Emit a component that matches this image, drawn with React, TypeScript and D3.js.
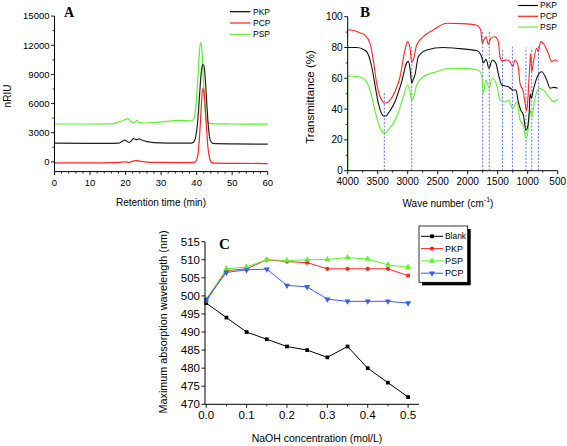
import React from 'react';
import * as d3 from 'd3';

const W = 567, H = 446;
const RED = '#ff2424', GREEN = '#5eef2e', BLUE = '#3b5cf2', DASH = '#5b78ea';
const SANS = '"Liberation Sans", Arial, sans-serif';
const SERIF = '"Liberation Serif", "Times New Roman", serif';

// ---------- Panel A: HPLC ----------
const hplcPSP: [number, number][] = [
  [0, 3900], [10, 3900], [16, 3920], [17, 3960], [18, 4100], [19, 4200], [20, 4380], [20.6, 4450], [21.3, 4250],
  [22, 4020], [22.6, 4100], [23.2, 4250], [23.8, 4050], [25, 4000], [28, 4050], [31, 4150], [34, 4250],
  [36, 4280], [38, 4220], [38.8, 4260], [39.4, 4700], [39.9, 6200], [40.4, 9000], [40.9, 11800], [41.2, 12300],
  [41.6, 10900], [42, 7600], [42.4, 5200], [42.8, 4250], [43.4, 3980], [45, 3920], [50, 3900], [60, 3880],
];
const hplcPKP: [number, number][] = [
  [0, 1920], [15, 1900], [18, 1930], [19, 2100], [19.8, 2230], [20.5, 2100], [21, 2000], [21.6, 2150], [22.2, 2400],
  [22.8, 2300], [23.3, 2280], [23.8, 2380], [24.5, 2250], [26, 2080], [28, 1980], [32, 1930], [38, 1920],
  [39, 1980], [39.6, 2400], [40.2, 3800], [40.7, 6200], [41.2, 8800], [41.6, 9900], [41.9, 10000], [42.3, 9200],
  [42.7, 7000], [43.1, 4600], [43.5, 2900], [44, 2100], [44.6, 1900], [50, 1850], [60, 1820],
];
const hplcPCP: [number, number][] = [
  [0, -100], [10, -110], [17, -80], [19, -20], [20, 0], [21, -50], [22, 80], [23, 120], [24, 80], [26, -20],
  [30, -60], [38, -70], [39.5, -20], [40.3, 600], [40.8, 2500], [41.3, 5600], [41.7, 7550], [42, 7400],
  [42.4, 5800], [42.8, 3400], [43.2, 1400], [43.7, 300], [44.3, -80], [45, -130], [50, -150], [60, -170],
];
const hplcXTicks = [0, 10, 20, 30, 40, 50, 60];
const hplcYTicks = [0, 3000, 6000, 9000, 12000, 15000];

// ---------- Panel B: FT-IR ----------
const irPCP: [number, number][] = [
  [4000, 91.5], [3900, 91], [3800, 89.6], [3712, 88], [3628, 82.7], [3573, 72], [3517, 56.7], [3470, 49],
  [3433, 45.9], [3390, 43.8], [3330, 44.5], [3295, 45.9], [3212, 51.3], [3128, 61], [3045, 78.4], [3000, 83.8],
  [2962, 79.5], [2933, 70.5], [2907, 72], [2850, 81.6], [2740, 87], [2573, 91.4], [2350, 95.7], [2100, 95.5],
  [1850, 94.5], [1783, 91.4], [1757, 82.7], [1740, 84], [1695, 87], [1657, 82], [1617, 86], [1545, 87],
  [1490, 83.8], [1462, 74], [1433, 71.4], [1350, 71.9], [1295, 70.8], [1250, 67.5], [1212, 71.9], [1157, 67.5],
  [1128, 56.7], [1073, 51.3], [1040, 43], [1020, 39], [1000, 44.8], [973, 63.2], [950, 76], [933, 64.3],
  [895, 73], [850, 79.5], [823, 77.3], [783, 83.8], [740, 82.7], [657, 76.2], [600, 70.8], [545, 71.9], [500, 71.4],
];
const irPKP: [number, number][] = [
  [4000, 80], [3850, 80], [3750, 79], [3683, 77.3], [3600, 67.5], [3545, 55.6], [3490, 43.8], [3440, 37.5],
  [3407, 35.5], [3360, 35.5], [3323, 37.3], [3212, 44.8], [3100, 57.8], [3017, 70], [2990, 71], [2960, 66],
  [2933, 57], [2910, 59], [2880, 62], [2823, 74], [2683, 78.4], [2407, 80], [2200, 79.5], [1850, 78],
  [1767, 74], [1740, 70], [1695, 72.3], [1645, 66.5], [1590, 71.9], [1533, 70], [1478, 61], [1433, 55.6],
  [1323, 54.5], [1240, 52.4], [1195, 52.4], [1157, 44.8], [1117, 39.4], [1073, 36.2], [1028, 26.4], [1007, 27.5],
  [973, 39.4], [960, 50], [940, 47], [907, 52.4], [840, 61], [767, 64.3], [683, 58.9], [628, 53.5], [562, 54.1], [500, 53.5],
];
const irPSP: [number, number][] = [
  [4000, 61.5], [3850, 61.2], [3740, 60], [3628, 52.4], [3573, 43.8], [3490, 30.8], [3440, 26], [3407, 24.7],
  [3360, 25], [3323, 26.4], [3183, 35], [3073, 48], [3000, 55.8], [2962, 51.3], [2933, 45.9], [2907, 47],
  [2850, 55.6], [2740, 61], [2517, 64.3], [2295, 66.5], [2000, 66.3], [1823, 65.4], [1767, 62.1], [1740, 50.3],
  [1695, 58.9], [1645, 53.5], [1590, 60], [1517, 55.6], [1462, 45.9], [1378, 44.8], [1323, 45.9], [1250, 40.5],
  [1183, 44.8], [1128, 32.9], [1073, 29.7], [1028, 21], [1000, 24.3], [962, 39.4], [933, 35], [878, 47],
  [807, 53.5], [740, 52.4], [628, 47], [573, 44.8], [500, 46.4],
];
const irBands = [3390, 2933, 1750, 1640, 1420, 1255, 1030, 933, 822];
const irBandTops = [51, 80.5, 91.4, 91.4, 79.5, 80.5, 80, 80, 81.6];
const irXTicks = [4000, 3500, 3000, 2500, 2000, 1500, 1000, 500];
const irYTicks = [0, 20, 40, 60, 80, 100];

// ---------- Panel C ----------
const naoh = [0, 0.05, 0.1, 0.15, 0.2, 0.25, 0.3, 0.35, 0.4, 0.45, 0.5];
const cBlank = [498, 494, 490, 488, 486, 485, 483, 486, 480, 476, 472];
const cPKP = [498.5, 507, 507.5, 510, 509.5, 509.2, 507.5, 507.5, 507.5, 507.5, 505.6];
const cPSP = [499, 507.5, 508, 510, 509.8, 510, 510.1, 510.6, 510.2, 508.6, 507.9];
const cPCP = [499, 506.5, 507.2, 507.4, 502.9, 502.5, 499.1, 498.5, 498.5, 498.5, 498];
const cXTicks = [0, 0.1, 0.2, 0.3, 0.4, 0.5];
const cYTicks = [470, 475, 480, 485, 490, 495, 500, 505, 510, 515];

const xA = d3.scaleLinear([0, 60], [54.5, 267.7]);
const yA = d3.scaleLinear([-1000, 15000], [171.6, 16.1]);
const xB = d3.scaleLinear([4000, 500], [347.7, 557.7]);
const yB = d3.scaleLinear([0, 100], [170.7, 16.7]);
const xC = d3.scaleLinear([-0.003, 0.527], [205, 419]);
const yC = d3.scaleLinear([470, 515], [404.3, 241.7]);

type Sc = d3.ScaleLinear<number, number>;

function AxisLeft({ x, y, ticks, minor, fs, fmt }: { x: Sc; y: Sc; ticks: number[]; minor: number[]; fs: number; fmt?: (v: number) => string }) {
  const x0 = x.range()[0];
  const [b, t] = y.range();
  return (
    <g>
      <line x1={x0} x2={x0} y1={b} y2={t} stroke="#000" strokeWidth={1} />
      {minor.map((v, i) => <line key={'m' + i} x1={x0} x2={x0 - 2} y1={y(v)} y2={y(v)} stroke="#000" strokeWidth={0.8} />)}
      {ticks.map((v, i) => (
        <g key={i}>
          <line x1={x0} x2={x0 - 3.5} y1={y(v)} y2={y(v)} stroke="#000" strokeWidth={0.9} />
          <text x={x0 - 5} y={y(v)} dy="0.35em" textAnchor="end" fontSize={fs} fontFamily={SANS}>{fmt ? fmt(v) : String(v)}</text>
        </g>
      ))}
    </g>
  );
}

function AxisBottom({ x, y, ticks, minor, fs, dy, fmt }: { x: Sc; y: Sc; ticks: number[]; minor: number[]; fs: number; dy: number; fmt?: (v: number) => string }) {
  const y0 = y.range()[0];
  const [l, r] = x.range();
  return (
    <g>
      <line x1={l} x2={r} y1={y0} y2={y0} stroke="#000" strokeWidth={1} />
      {minor.map((v, i) => <line key={'m' + i} x1={x(v)} x2={x(v)} y1={y0} y2={y0 + 2} stroke="#000" strokeWidth={0.8} />)}
      {ticks.map((v, i) => (
        <g key={i}>
          <line x1={x(v)} x2={x(v)} y1={y0} y2={y0 + 3.5} stroke="#000" strokeWidth={0.9} />
          <text x={x(v)} y={y0 + dy} textAnchor="middle" fontSize={fs} fontFamily={SANS}>{fmt ? fmt(v) : String(v)}</text>
        </g>
      ))}
    </g>
  );
}

export default function App() {
  const lineA = d3.line<[number, number]>().x(d => xA(d[0])).y(d => yA(d[1])).curve(d3.curveMonotoneX);
  const lineB = d3.line<[number, number]>().x(d => xB(d[0])).y(d => yB(d[1])).curve(d3.curveMonotoneX);
  const lineC = (vals: number[]) => d3.line<number>().x((_, i) => xC(naoh[i])).y(d => yC(d))(vals) || '';

  const minorA_x = d3.range(0, 61, 2).filter(v => v % 10 !== 0);
  const minorA_y = d3.range(-1500, 15001, 1500).filter(v => v % 3000 !== 0 && v >= -1000);
  const minorB_x = d3.range(500, 4001, 250).filter(v => v % 500 !== 0);
  const minorB_y = d3.range(10, 100, 20);
  const minorC_x = [0.05, 0.15, 0.25, 0.35, 0.45];

  const sym = (type: d3.SymbolType, size: number) => d3.symbol(type, size)() || '';
  const cSeries = [
    { name: 'Blank', vals: cBlank, color: '#000', shape: sym(d3.symbolSquare, 14) },
    { name: 'PKP', vals: cPKP, color: RED, shape: sym(d3.symbolCircle, 14) },
    { name: 'PSP', vals: cPSP, color: GREEN, shape: sym(d3.symbolTriangle, 16) },
    { name: 'PCP', vals: cPCP, color: BLUE, shape: sym(d3.symbolTriangle, 16), flip: true },
  ];
  const legA = [{ n: 'PKP', c: '#000' }, { n: 'PCP', c: RED }, { n: 'PSP', c: GREEN }];

  return (
    <svg width={W} height={H} style={{ position: 'absolute', left: 0, top: 0, background: '#fff' }}>
      <rect width={W} height={H} fill="#fff" />
      {/* ---------- Panel A ---------- */}
      <g>
        <path d={lineA(hplcPSP) || ''} fill="none" stroke={GREEN} strokeWidth={1.2} />
        <path d={lineA(hplcPKP) || ''} fill="none" stroke="#222" strokeWidth={1.2} />
        <path d={lineA(hplcPCP) || ''} fill="none" stroke={RED} strokeWidth={1.2} />
        <AxisLeft x={xA} y={yA} ticks={hplcYTicks} minor={minorA_y} fs={9.5} />
        <AxisBottom x={xA} y={yA} ticks={hplcXTicks} minor={minorA_x} fs={9.5} dy={14.3} />
        <text transform="translate(7.5,96) rotate(-90)" textAnchor="middle" dominantBaseline="central" fontSize={10} fontFamily={SANS}>nRIU</text>
        <text x={161} y={202} textAnchor="middle" dominantBaseline="central" fontSize={10} fontFamily={SANS}>Retention time (min)</text>
        <text x={64} y={17} fontSize={14} fontWeight="bold" fontFamily={SERIF}>A</text>
        {legA.map((d, i) => (
          <g key={d.n}>
            <line x1={230} x2={250.5} y1={11.7 + i * 11.3} y2={11.7 + i * 11.3} stroke={d.c} strokeWidth={1.2} />
            <text x={253} y={11.7 + i * 11.3} dy="0.35em" fontSize={8.5} fontFamily={SANS}>{d.n}</text>
          </g>
        ))}
      </g>

      {/* ---------- Panel B ---------- */}
      <g>
        {irBands.map((w, i) => (
          <line key={w} x1={xB(w)} x2={xB(w)} y1={yB(0)} y2={yB(irBandTops[i])} stroke={DASH} strokeWidth={1} strokeDasharray="2,1.6" />
        ))}
        <line x1={xB(irPSP[0][0])} x2={xB(irPSP[0][0])} y1={yB(0)} y2={yB(irPSP[0][1])} stroke={GREEN} strokeWidth={1.2} />
        <path d={lineB(irPSP) || ''} fill="none" stroke={GREEN} strokeWidth={1.1} />
        <path d={lineB(irPKP) || ''} fill="none" stroke="#111" strokeWidth={1.1} />
        <path d={lineB(irPCP) || ''} fill="none" stroke={RED} strokeWidth={1.1} />
        <AxisLeft x={xB} y={yB} ticks={irYTicks} minor={minorB_y} fs={10} />
        <AxisBottom x={xB} y={yB} ticks={irXTicks} minor={minorB_x} fs={10} dy={14.3} />
        <text transform="translate(310,97) rotate(-90)" textAnchor="middle" dominantBaseline="central" fontSize={11.5} fontFamily={SANS}>Transmittance (%)</text>
        <text x={448} y={203} textAnchor="middle" dominantBaseline="central" fontSize={10} fontFamily={SANS}>
          Wave number (cm<tspan fontSize={7} dy={-4}>-1</tspan><tspan dy={4}>)</tspan>
        </text>
        <text x={360} y={17} fontSize={15} fontWeight="bold" fontFamily={SERIF}>B</text>
        {legA.map((d, i) => (
          <g key={d.n}>
            <line x1={518} x2={538} y1={5.5 + i * 10.8} y2={5.5 + i * 10.8} stroke={d.c} strokeWidth={1.2} />
            <text x={540} y={5.5 + i * 10.8} dy="0.35em" fontSize={8.5} fontFamily={SANS}>{d.n}</text>
          </g>
        ))}
      </g>

      {/* ---------- Panel C ---------- */}
      <g>
        {cSeries.map(s => (
          <g key={s.name}>
            <path d={lineC(s.vals)} fill="none" stroke={s.color} strokeWidth={1} />
            {s.vals.map((v, i) => (
              <path key={i} d={s.shape} transform={`translate(${xC(naoh[i])},${yC(v)})${s.flip ? ' rotate(180)' : ''}`} fill={s.color} />
            ))}
          </g>
        ))}
        <AxisLeft x={xC} y={yC} ticks={cYTicks} minor={[]} fs={11.5} />
        <AxisBottom x={xC} y={yC} ticks={cXTicks} minor={minorC_x} fs={11.5} dy={14.5} fmt={v => v.toFixed(1)} />
        <text transform="translate(163,322) rotate(-90)" textAnchor="middle" dominantBaseline="central" fontSize={10.8} fontFamily={SANS}>Maximum absorption wavelength (nm)</text>
        <text x={317} y={438} textAnchor="middle" dominantBaseline="central" fontSize={10.5} fontFamily={SANS}>NaOH concentration (mol/L)</text>
        <text x={219} y={249} fontSize={15} fontWeight="bold" fontFamily={SERIF}>C</text>
        <rect x={422} y={229} width={48.7} height={56.3} fill="#000" />
        <rect x={419} y={226} width={48.7} height={56.3} fill="#fff" stroke="#000" strokeWidth={0.8} />
        {cSeries.map((s, i) => {
          const ly = 236.3 + i * 12.3;
          return (
            <g key={s.name}>
              <line x1={421} x2={443} y1={ly} y2={ly} stroke={s.color} strokeWidth={1} />
              <path d={s.shape} transform={`translate(432,${ly})${s.flip ? ' rotate(180)' : ''}`} fill={s.color} />
              <text x={445} y={ly} dy="0.35em" fontSize={9} fontFamily={SANS} textLength={s.name === 'Blank' ? 21 : undefined} lengthAdjust="spacingAndGlyphs">{s.name}</text>
            </g>
          );
        })}
      </g>
    </svg>
  );
}
